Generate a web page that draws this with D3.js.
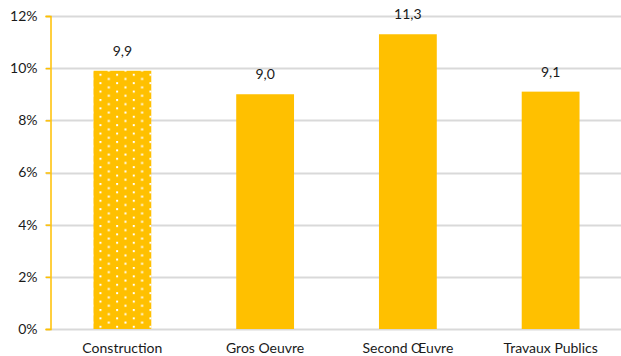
<!DOCTYPE html>
<html>
<head>
<meta charset="utf-8">
<script src="https://cdn.jsdelivr.net/npm/d3@7"></script>
<style>
  html, body { margin: 0; padding: 0; background: #fff; }
  svg text { font-family: Lato, "Open Sans", sans-serif; fill: #1a1a1a; }
</style>
</head>
<body>
<svg id="chart" width="621" height="356"></svg>
<script>
// Sector shares, in percent
const categories = ["Construction", "Gros Oeuvre", "Second Œuvre", "Travaux Publics"];
const values = [9.9, 9.0, 11.3, 9.1];
const labels = ["9,9", "9,0", "11,3", "9,1"];
const yTicks = [0, 2, 4, 6, 8, 10, 12];
const dotted = [true, false, false, false];

const svg = d3.select("#chart");
const margin = { top: 16, right: 0, bottom: 27, left: 50 };
const W = 621, H = 356;

const x = d3.scaleBand()
  .domain(categories)
  .range([margin.left + 1, W - margin.right + 1])
  .paddingInner(0.595)
  .paddingOuter(0.2975);

const y = d3.scaleLinear()
  .domain([0, 12])
  .range([H - margin.bottom, margin.top]);

// Dot pattern for the aggregate bar
const defs = svg.append("defs");
const pat = defs.append("pattern")
  .attr("id", "dots")
  .attr("patternUnits", "userSpaceOnUse")
  .attr("width", 16.66)
  .attr("height", 8.4)
  .attr("x", x(categories[0]) + 6)
  .attr("y", y(values[0]) + 3);
pat.append("rect").attr("width", 16.66).attr("height", 8.4).attr("fill", "#FFC000");
pat.append("rect").attr("x", 0).attr("y", 0).attr("width", 2).attr("height", 2).attr("fill", "#fff");
pat.append("rect").attr("x", 8.33).attr("y", 4.2).attr("width", 2).attr("height", 2).attr("fill", "#fff");

// Horizontal gridlines
svg.append("g")
  .selectAll("line")
  .data(yTicks)
  .join("line")
  .attr("x1", margin.left - 4)
  .attr("x2", W)
  .attr("y1", d => Math.round(y(d)) + 0.5)
  .attr("y2", d => Math.round(y(d)) + 0.5)
  .attr("stroke", "#d9d9d9")
  .attr("stroke-width", 2);

// Bars
svg.append("g")
  .selectAll("rect")
  .data(categories)
  .join("rect")
  .attr("x", d => x(d))
  .attr("width", x.bandwidth())
  .attr("y", (d, i) => y(values[i]))
  .attr("height", (d, i) => y(0) - y(values[i]))
  .attr("fill", (d, i) => dotted[i] ? "url(#dots)" : "#FFC000");

// Value labels
svg.append("g")
  .selectAll("text")
  .data(categories)
  .join("text")
  .attr("x", d => x(d) + x.bandwidth() / 2)
  .attr("y", (d, i) => y(values[i]) - 15)
  .attr("text-anchor", "middle")
  .attr("font-size", 14)
  .text((d, i) => labels[i]);

// Y axis
const yAxis = d3.axisLeft(y)
  .tickValues(yTicks)
  .tickFormat(d => d + "%")
  .tickSize(5)
  .tickPadding(8);
const gy = svg.append("g")
  .attr("transform", `translate(${margin.left + 0.5},0)`)
  .call(yAxis);
gy.select(".domain").attr("stroke", "#FFC000").attr("stroke-width", 1.5);
gy.selectAll(".tick line").attr("stroke", "#FFC000").attr("stroke-width", 1.5);
gy.selectAll(".tick text").attr("font-size", 14).style("fill", "#1a1a1a");

// Category labels
svg.append("g")
  .selectAll("text")
  .data(categories)
  .join("text")
  .attr("x", d => x(d) + x.bandwidth() / 2)
  .attr("y", H - 3)
  .attr("text-anchor", "middle")
  .attr("font-size", 14)
  .text(d => d);
</script>
</body>
</html>
